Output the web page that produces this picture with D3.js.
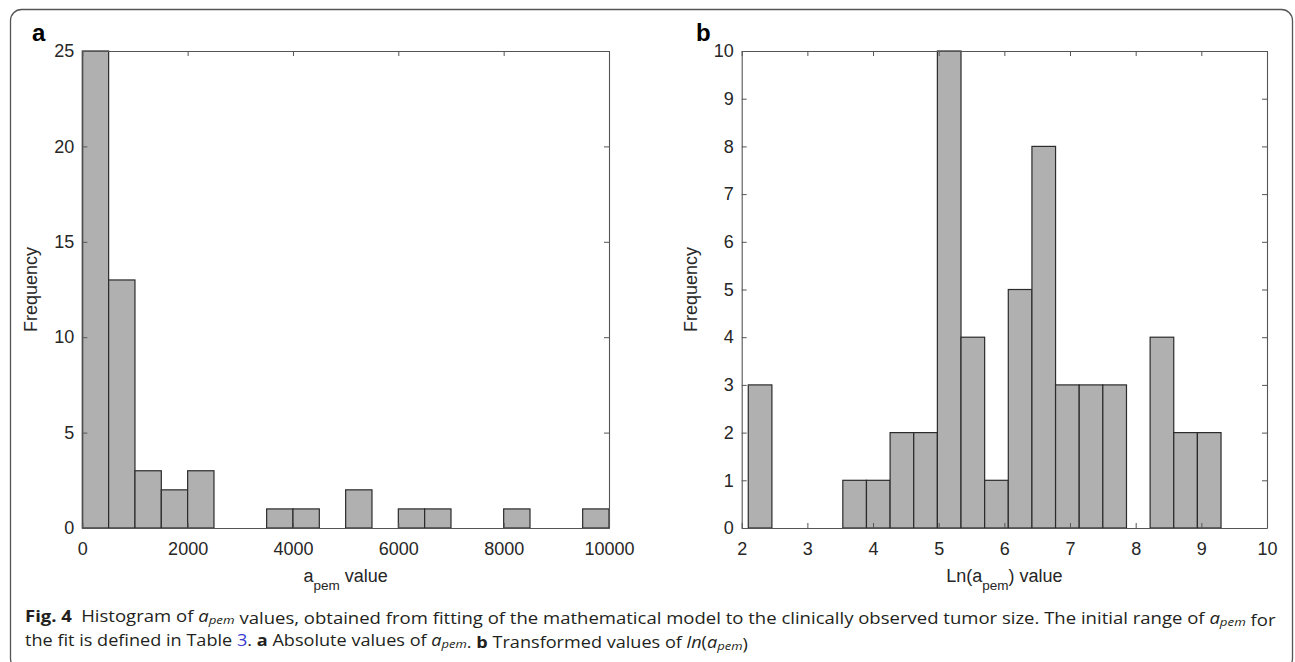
<!DOCTYPE html>
<html>
<head>
<meta charset="utf-8">
<script src="https://cdn.jsdelivr.net/npm/d3@7"></script>
<style>
  html, body { margin: 0; padding: 0; background: #fff; }
  svg { display: block; }
</style>
</head>
<body>
<svg id="chart" width="1295" height="662"></svg>
<script>
// ---------- DATA ----------
const aEdges = [0, 500, 1000, 1500, 2000, 2500, 3000, 3500, 4000, 4500, 5000,
                5500, 6000, 6500, 7000, 7500, 8000, 8500, 9000, 9500, 10000];
const aCounts = [25, 13, 3, 2, 3, 0, 0, 1, 1, 0, 2, 0, 1, 1, 0, 0, 1, 0, 0, 1];
const aXTicks = [0, 2000, 4000, 6000, 8000, 10000];
const aYTicks = [0, 5, 10, 15, 20, 25];

const bEdges = [2.10, 2.46, 2.82, 3.18, 3.54, 3.90, 4.26, 4.62, 4.98, 5.34, 5.70,
                6.06, 6.42, 6.78, 7.14, 7.50, 7.86, 8.22, 8.58, 8.94, 9.30];
const bCounts = [3, 0, 0, 0, 1, 1, 2, 2, 10, 4, 1, 5, 8, 3, 3, 3, 0, 4, 2, 2];
const bXTicks = [2, 3, 4, 5, 6, 7, 8, 9, 10];
const bYTicks = [0, 1, 2, 3, 4, 5, 6, 7, 8, 9, 10];

// ---------- LAYOUT ----------
const svg = d3.select("#chart");
const plotTop = 51, plotBottom = 528;
const axisColor = "#555";
const font = "Liberation Sans, Arial, sans-serif";
const fs = 18;

svg.append("rect")
  .attr("x", 10.5).attr("y", 9.5)
  .attr("width", 1282).attr("height", 660)
  .attr("rx", 11).attr("ry", 11)
  .attr("fill", "none").attr("stroke", "#555").attr("stroke-width", 1.3);

function panel(opts) {
  const { left, right, edges, counts, xDomain, yDomain, xTicks, yTicks, letter, letterX, xlabel } = opts;
  const g = svg.append("g");
  const x = d3.scaleLinear().domain(xDomain).range([left, right]);
  const y = d3.scaleLinear().domain(yDomain).range([plotBottom, plotTop]);

  const bins = counts.map((c, i) => ({ x0: edges[i], x1: edges[i + 1], c }));
  g.selectAll("rect.bar").data(bins.filter(d => d.c > 0)).join("rect")
    .attr("class", "bar")
    .attr("x", d => x(d.x0)).attr("y", d => y(d.c))
    .attr("width", d => x(d.x1) - x(d.x0))
    .attr("height", d => y(0) - y(d.c))
    .attr("fill", "#b0b0b0")
    .attr("stroke", "#2b2b2b").attr("stroke-width", 1.2);

  const tickLen = 5;
  const fmt = d3.format("d");
  const ax = g.append("g").attr("transform", `translate(0,${plotBottom})`)
    .call(d3.axisBottom(x).tickValues(xTicks).tickFormat(fmt).tickSizeInner(-tickLen).tickSizeOuter(0).tickPadding(14));
  const axT = g.append("g").attr("transform", `translate(0,${plotTop})`)
    .call(d3.axisTop(x).tickValues(xTicks).tickSizeInner(-tickLen).tickSizeOuter(0).tickFormat(""));
  const ay = g.append("g").attr("transform", `translate(${left},0)`)
    .call(d3.axisLeft(y).tickValues(yTicks).tickFormat(fmt).tickSizeInner(-tickLen).tickSizeOuter(0).tickPadding(8));
  const ayR = g.append("g").attr("transform", `translate(${right},0)`)
    .call(d3.axisRight(y).tickValues(yTicks).tickSizeInner(-tickLen).tickSizeOuter(0).tickFormat(""));

  [ax, axT, ay, ayR].forEach(a => {
    a.selectAll(".domain").attr("stroke", axisColor).attr("stroke-width", 1.1);
    a.selectAll(".tick line").attr("stroke", axisColor).attr("stroke-width", 1);
    a.selectAll(".tick text").attr("fill", "#262626").attr("font-family", font).attr("font-size", fs);
  });

  g.append("text")
    .attr("transform", `translate(${left - 45},${(plotTop + plotBottom) / 2}) rotate(-90)`)
    .attr("text-anchor", "middle")
    .attr("font-family", font).attr("font-size", fs).attr("fill", "#262626")
    .text("Frequency");

  const xl = g.append("text")
    .attr("x", (left + right) / 2).attr("y", 582)
    .attr("text-anchor", "middle")
    .attr("font-family", font).attr("font-size", fs).attr("fill", "#262626");
  xlabel(xl);

  g.append("text")
    .attr("x", letterX).attr("y", 41)
    .attr("font-family", font).attr("font-weight", "bold").attr("font-size", 24)
    .attr("fill", "#000").text(letter);
}

panel({
  left: 82.3, right: 609, edges: aEdges, counts: aCounts,
  xDomain: [0, 10000], yDomain: [0, 25], xTicks: aXTicks, yTicks: aYTicks,
  letter: "a", letterX: 32,
  xlabel: t => {
    t.append("tspan").text("a");
    t.append("tspan").attr("dy", 8).attr("font-size", 13.5).text("pem");
    t.append("tspan").attr("dy", -8).text(" value");
  }
});

panel({
  left: 741.7, right: 1267, edges: bEdges, counts: bCounts,
  xDomain: [2, 10], yDomain: [0, 10], xTicks: bXTicks, yTicks: bYTicks,
  letter: "b", letterX: 696,
  xlabel: t => {
    t.append("tspan").text("Ln(a");
    t.append("tspan").attr("dy", 8).attr("font-size", 13.5).text("pem");
    t.append("tspan").attr("dy", -8).text(") value");
  }
});

// ---------- CAPTION ----------
const capFont = "'Open Sans', 'Noto Sans', sans-serif";
function captionLine(yBase, x0, targetW, build) {
  const g = svg.append("g");
  const t = g.append("text").attr("x", 0).attr("y", 0)
    .attr("font-family", capFont).attr("font-size", 16).attr("fill", "#231f20");
  build(t);
  const w = t.node().getComputedTextLength();
  g.attr("transform", `translate(${x0},${yBase}) scale(${targetW / w},1)`);
}
function italSub(t, base, sub) {
  t.append("tspan").attr("font-style", "italic").text(base);
  t.append("tspan").attr("font-style", "italic").attr("font-size", 11.5).attr("dy", 2).text(sub);
  t.append("tspan").attr("dy", -2).text("");
}

captionLine(622, 25, 1252, t => {
  t.append("tspan").attr("font-weight", "bold").text("Fig. 4");
  t.append("tspan").text("\u2002Histogram of ");
  italSub(t, "a", "pem");
  t.append("tspan").text(" values, obtained from fitting of the mathematical model to the clinically observed tumor size. The initial range of ");
  italSub(t, "a", "pem");
  t.append("tspan").text(" for");
});

captionLine(646, 25, 723, t => {
  t.append("tspan").text("the fit is defined in Table ");
  t.append("tspan").attr("fill", "#3a3ad0").text("3");
  t.append("tspan").text(". ");
  t.append("tspan").attr("font-weight", "bold").text("a");
  t.append("tspan").text(" Absolute values of ");
  italSub(t, "a", "pem");
  t.append("tspan").text(". ");
  t.append("tspan").attr("font-weight", "bold").text("b");
  t.append("tspan").text(" Transformed values of ");
  t.append("tspan").attr("font-style", "italic").text("ln");
  t.append("tspan").text("(");
  italSub(t, "a", "pem");
  t.append("tspan").text(")");
});
</script>
</body>
</html>
